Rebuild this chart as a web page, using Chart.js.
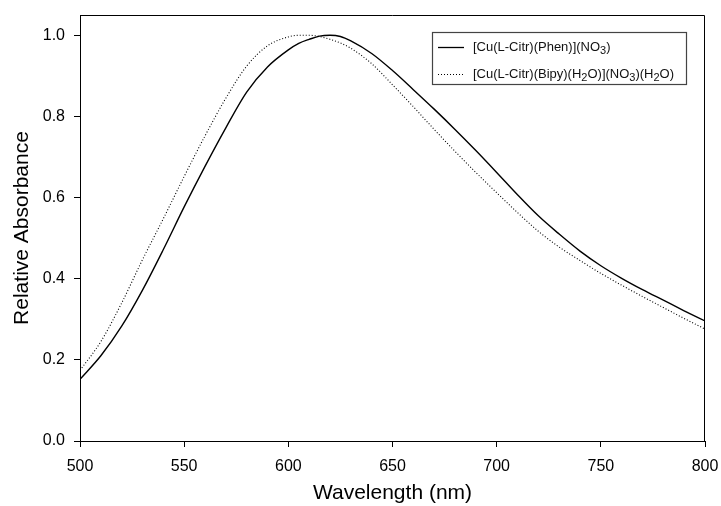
<!DOCTYPE html>
<html>
<head>
<meta charset="utf-8">
<script src="https://cdn.jsdelivr.net/npm/chart.js@4"></script>
<style>
  html, body { margin: 0; padding: 0; background: #fff; }
  #wrap { width: 721px; height: 506px; }
</style>
</head>
<body>
<div id="wrap"><canvas id="c" width="721" height="506"></canvas></div>
<script>
// ---- data ----
const wavelengths = [500,510,520,530,540,550,560,570,580,590,600,605,610,615,620,625,630,640,650,660,670,680,690,700,710,720,730,740,750,760,770,780,790,800];
const phenValues  = [0.152,0.210,0.283,0.372,0.472,0.577,0.677,0.772,0.860,0.922,0.964,0.980,0.990,0.998,1.000,0.997,0.986,0.955,0.913,0.866,0.818,0.768,0.716,0.662,0.607,0.555,0.510,0.468,0.432,0.401,0.373,0.347,0.321,0.296];
const bipyValues  = [0.174,0.245,0.340,0.447,0.548,0.652,0.752,0.845,0.924,0.974,0.996,1.000,1.000,0.997,0.990,0.981,0.968,0.930,0.878,0.824,0.768,0.714,0.662,0.612,0.563,0.517,0.478,0.445,0.413,0.384,0.356,0.329,0.302,0.276];
const xTicks = [500,550,600,650,700,750,800];
const yTicks = [0.0,0.2,0.4,0.6,0.8,1.0];

const FONT = "'Liberation Sans', Arial, sans-serif";

function toPoints(xs, ys) { return xs.map((x, i) => ({x: x, y: ys[i]})); }

// legend entries: arrays of [text, isSubscript]
const legendItems = [
  { dash: [], width: 1.3, parts: [["[Cu(L-Citr)(Phen)](NO",0],["3",1],[")",0]] },
  { dash: [1,2], width: 1.1, parts: [["[Cu(L-Citr)(Bipy)(H",0],["2",1],["O)](NO",0],["3",1],[")(H",0],["2",1],["O)",0]] }
];

const framePlugin = {
  id: 'frameAndLegend',
  afterDatasetsDraw(chart) {
    const ctx = chart.ctx, a = chart.chartArea;
    ctx.save();
    ctx.strokeStyle = '#000';
    ctx.lineWidth = 1;
    ctx.beginPath();
    ctx.moveTo(a.left, a.top + 0.5);
    ctx.lineTo(a.right - 0.5, a.top + 0.5);
    ctx.lineTo(a.right - 0.5, a.bottom);
    ctx.stroke();

    // legend box
    const bx = 432.5, by = 32.5, bw = 254, bh = 52;
    ctx.fillStyle = '#fff';
    ctx.fillRect(bx, by, bw, bh);
    ctx.strokeStyle = '#444';
    ctx.lineWidth = 1.2;
    ctx.strokeRect(bx, by, bw, bh);

    legendItems.forEach((it, i) => {
      const y = 47 + i * 27;
      ctx.strokeStyle = '#000';
      ctx.lineWidth = it.width;
      ctx.setLineDash(it.dash);
      ctx.beginPath();
      ctx.moveTo(438, y + 0.5);
      ctx.lineTo(464, y + 0.5);
      ctx.stroke();
      ctx.setLineDash([]);
      let x = 473;
      ctx.fillStyle = '#111';
      ctx.textBaseline = 'middle';
      ctx.textAlign = 'left';
      it.parts.forEach(([t, sub]) => {
        ctx.font = (sub ? '11px ' : '13px ') + FONT;
        ctx.fillText(t, x, sub ? y + 4 : y);
        x += ctx.measureText(t).width;
      });
    });
    ctx.restore();
  }
};

new Chart(document.getElementById('c'), {
  type: 'line',
  data: {
    datasets: [
      {
        label: '[Cu(L-Citr)(Phen)](NO3)',
        data: toPoints(wavelengths, phenValues),
        borderColor: '#000',
        borderWidth: 1.4,
        pointRadius: 0,
        fill: false,
        cubicInterpolationMode: 'monotone'
      },
      {
        label: '[Cu(L-Citr)(Bipy)(H2O)](NO3)(H2O)',
        data: toPoints(wavelengths, bipyValues),
        borderColor: '#000',
        borderWidth: 1.1,
        borderDash: [1, 2],
        pointRadius: 0,
        fill: false,
        cubicInterpolationMode: 'monotone'
      }
    ]
  },
  options: {
    responsive: false,
    animation: false,
    layout: { padding: { top: 15, right: 16, left: 0, bottom: 0 } },
    plugins: { legend: { display: false }, tooltip: { enabled: false } },
    scales: {
      x: {
        type: 'linear',
        min: 500, max: 800,
        afterBuildTicks: s => { s.ticks = xTicks.map(v => ({value: v})); },
        afterFit: s => { s.height = 65; s.paddingLeft = 0; s.paddingRight = 0; },
        grid: { display: true, drawOnChartArea: false, drawTicks: true, tickLength: 6, color: '#000', lineWidth: 1 },
        border: { display: true, color: '#000', width: 1 },
        ticks: { color: '#000', font: { family: FONT, size: 16 }, padding: 10, maxRotation: 0,
                 callback: v => String(v) },
        title: { display: true, text: 'Wavelength (nm)', color: '#000', font: { family: FONT, size: 21 }, padding: { top: 0, bottom: 0 } }
      },
      y: {
        type: 'linear',
        min: 0, max: 1.05,
        afterBuildTicks: s => { s.ticks = yTicks.map(v => ({value: v})); },
        afterFit: s => { s.width = 80; s.paddingTop = 0; s.paddingBottom = 0; },
        grid: { display: true, drawOnChartArea: false, drawTicks: true, tickLength: 6, color: '#000', lineWidth: 1 },
        border: { display: true, color: '#000', width: 1 },
        ticks: { color: '#000', font: { family: FONT, size: 16 }, padding: 9,
                 callback: v => Number(v).toFixed(1) },
        title: { display: true, text: 'Relative Absorbance', color: '#000', font: { family: FONT, size: 21 }, padding: { top: 10, bottom: 0 } }
      }
    }
  },
  plugins: [framePlugin]
});
</script>
</body>
</html>
